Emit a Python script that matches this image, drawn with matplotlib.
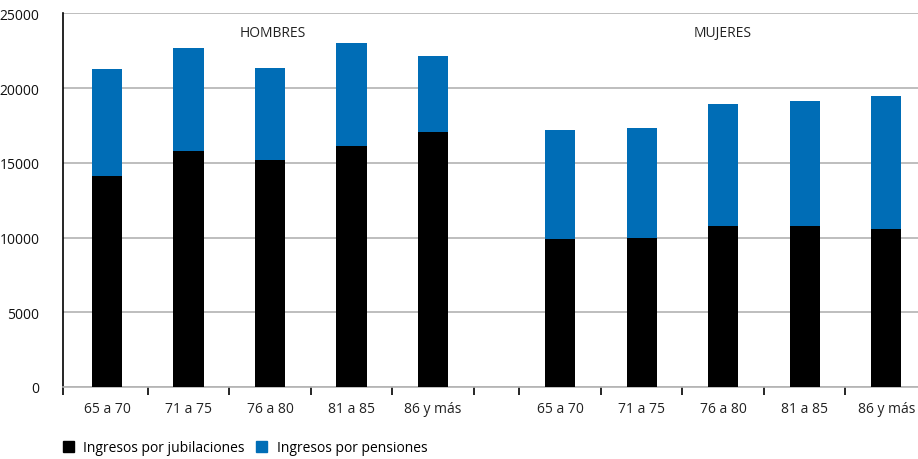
import numpy as np
import matplotlib.pyplot as plt
from matplotlib.patches import Patch

plt.rcParams['font.family'] = ['Open Sans', 'DejaVu Sans']

# datos
grupos_edad = ['65 a 70', '71 a 75', '76 a 80', '81 a 85', '86 y más']
hombres_jubilaciones = [14100, 15800, 15200, 16150, 17070]
hombres_pensiones = [7180, 6880, 6150, 6880, 5080]
mujeres_jubilaciones = [9930, 9980, 10780, 10780, 10580]
mujeres_pensiones = [7270, 7350, 8160, 8360, 8890]

negro = '#000000'
azul = '#006db6'
ancho = 0.37

fig = plt.figure(figsize=(9.18, 4.6), dpi=100)
ax = fig.add_axes([63 / 918, 1 - 388 / 460, 1 - 63 / 918, (388 - 14.3) / 460])

x_h = np.arange(len(grupos_edad))
x_m = x_h + 5.56

jub = hombres_jubilaciones + mujeres_jubilaciones
pen = hombres_pensiones + mujeres_pensiones
xs = np.concatenate([x_h, x_m])

ax.bar(xs, jub, width=ancho, color=negro, zorder=3)
ax.bar(xs, pen, width=ancho, bottom=jub, color=azul, zorder=3)

ax.set_ylim(0, 25000)
ax.set_xlim(-0.54, 9.95)
ax.set_yticks(range(0, 25001, 5000))
ax.yaxis.grid(True, color='#b3b3b3', linewidth=1.2, zorder=0)
ax.tick_params(axis='y', length=0, pad=17, labelsize=10, labelcolor='#111111')

ax.set_xticks(xs)
ax.set_xticklabels(grupos_edad + grupos_edad, fontsize=10, color='#222222')
ax.tick_params(axis='x', length=0, pad=10)
# marcas entre categorías
bordes = [-0.54] + list(np.arange(0.5, 5, 1)) + list(np.arange(5.06, 9.1, 1))
ax.set_xticks(bordes, minor=True)
ax.tick_params(axis='x', which='minor', length=6, width=1.2, color='black', direction='out')

for s in ['top', 'right']:
    ax.spines[s].set_visible(False)
ax.spines['left'].set_color('black')
ax.spines['left'].set_linewidth(1.2)
ax.spines['bottom'].set_color('#b3b3b3')
ax.spines['bottom'].set_linewidth(1.2)

ax.text(2.03, 23700, 'HOMBRES', ha='center', va='center', fontsize=10, color='#222222')
ax.text(7.55, 23700, 'MUJERES', ha='center', va='center', fontsize=10, color='#222222')

handles = [Patch(color=negro), Patch(color=azul)]
fig.legend(handles, ['Ingresos por jubilaciones', 'Ingresos por pensiones'],
           loc='center left', bbox_to_anchor=(50 / 918, 1 - 449 / 460), ncol=2,
           frameon=False, fontsize=10, handlelength=0.8, handleheight=0.8,
           handletextpad=0.7, columnspacing=0.8)

fig.savefig('out.png', dpi=100)
